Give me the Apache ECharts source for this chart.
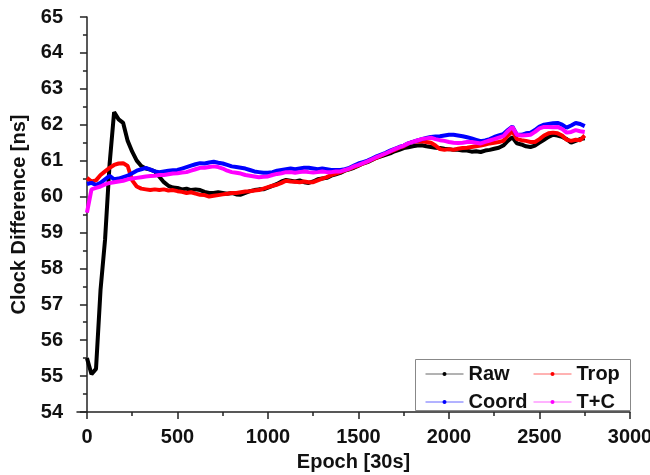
<!DOCTYPE html>
<html>
<head>
<meta charset="utf-8">
<script src="https://cdn.jsdelivr.net/npm/echarts@6/dist/echarts.min.js"></script>
<style>html,body{margin:0;padding:0;background:#fff}#c{width:650px;height:475px}</style>
</head>
<body>
<div id="c"></div>
<script>
const epochs = [0,25,50,75,100,125,150,175,200,225,250,275,300,325,350,375,400,425,450,475,500,525,550,575,600,625,650,675,700,725,750,775,800,825,850,875,900,925,950,975,1000,1025,1050,1075,1100,1125,1150,1175,1200,1225,1250,1275,1300,1325,1350,1375,1400,1425,1450,1475,1500,1525,1550,1575,1600,1625,1650,1675,1700,1725,1750,1775,1800,1825,1850,1875,1900,1925,1950,1975,2000,2025,2050,2075,2100,2125,2150,2175,2200,2225,2250,2275,2300,2325,2350,2375,2400,2425,2450,2475,2500,2525,2550,2575,2600,2625,2650,2675,2700,2725,2750];

const raw = [55.5,55.05,55.2,57.4,58.8,60.9,62.35,62.15,62.05,61.55,61.25,61.0,60.85,60.78,60.75,60.7,60.55,60.4,60.3,60.25,60.24,60.2,60.22,60.18,60.2,60.18,60.13,60.1,60.1,60.12,60.1,60.08,60.1,60.06,60.05,60.1,60.15,60.18,60.2,60.2,60.25,60.3,60.35,60.42,60.46,60.44,60.42,60.45,60.4,60.38,60.42,60.48,60.5,60.52,60.58,60.62,60.66,60.72,60.76,60.8,60.86,60.92,60.96,61.02,61.08,61.12,61.16,61.2,61.26,61.3,61.35,61.37,61.4,61.42,61.43,61.4,61.38,61.36,61.35,61.33,61.32,61.3,61.3,61.28,61.28,61.25,61.26,61.24,61.28,61.3,61.33,61.36,61.42,61.55,61.65,61.48,61.45,61.4,61.38,61.42,61.5,61.58,61.66,61.72,61.7,61.66,61.6,61.5,61.55,61.6,61.62];

const trop = [60.52,60.42,60.45,60.6,60.7,60.8,60.88,60.92,60.93,60.85,60.45,60.28,60.22,60.2,60.18,60.2,60.18,60.2,60.17,60.18,60.15,60.13,60.1,60.12,60.08,60.05,60.04,60.0,60.02,60.04,60.06,60.08,60.1,60.1,60.12,60.14,60.15,60.17,60.18,60.22,60.26,60.3,60.33,60.38,60.44,60.42,60.41,60.4,60.42,60.4,60.4,60.45,60.5,60.54,60.6,60.64,60.68,60.73,60.77,60.82,60.87,60.92,60.97,61.03,61.08,61.14,61.2,61.25,61.3,61.36,61.4,61.47,61.52,61.53,61.54,61.52,61.5,61.42,61.32,61.3,61.32,61.3,61.33,61.35,61.36,61.38,61.4,61.42,61.45,61.48,61.5,61.52,61.55,61.7,61.82,61.6,61.57,61.55,61.52,61.52,61.6,61.7,61.76,61.78,61.76,61.7,61.58,61.55,61.58,61.57,61.7];

const coord = [60.35,60.38,60.32,60.38,60.48,60.58,60.48,60.5,60.54,60.58,60.65,60.72,60.76,60.8,60.75,60.7,60.68,60.7,60.72,60.73,60.74,60.78,60.82,60.86,60.9,60.93,60.92,60.95,60.97,60.94,60.92,60.88,60.84,60.82,60.8,60.78,60.74,60.7,60.68,60.66,60.66,60.68,60.72,60.74,60.76,60.78,60.76,60.78,60.8,60.8,60.78,60.76,60.78,60.76,60.74,60.74,60.74,60.76,60.8,60.86,60.92,60.96,61.0,61.06,61.12,61.17,61.22,61.28,61.33,61.38,61.42,61.48,61.52,61.56,61.6,61.63,61.66,61.67,61.68,61.7,61.72,61.72,61.7,61.68,61.65,61.62,61.58,61.54,61.56,61.6,61.66,61.7,61.74,61.85,61.95,61.72,61.72,61.76,61.78,61.85,61.95,62.0,62.02,62.04,62.05,62.0,61.92,61.98,62.05,62.02,61.96];

const tc = [59.55,60.2,60.24,60.28,60.34,60.38,60.4,60.42,60.44,60.48,60.5,60.52,60.54,60.56,60.57,60.58,60.6,60.6,60.62,60.64,60.65,60.67,60.68,60.72,60.76,60.8,60.8,60.82,60.84,60.82,60.78,60.72,60.68,60.66,60.64,60.6,60.58,60.56,60.54,60.55,60.56,60.6,60.63,60.65,60.68,60.68,60.66,60.68,60.7,60.68,60.67,60.68,60.7,60.68,60.68,60.7,60.7,60.74,60.78,60.84,60.88,60.93,60.98,61.04,61.1,61.15,61.2,61.26,61.32,61.37,61.42,61.48,61.52,61.56,61.6,61.62,61.64,61.6,61.57,61.55,61.52,61.5,61.49,61.5,61.52,61.52,61.5,61.48,61.52,61.56,61.6,61.64,61.68,61.82,61.94,61.72,61.7,61.71,61.72,61.8,61.9,61.94,61.94,61.93,61.94,61.88,61.78,61.8,61.85,61.82,61.8];

const seriesNames = ['Raw','Trop','Coord','T+C'];
const seriesColors = ['#000000','#ff0000','#0000ff','#ff00ff'];
const seriesValues = [raw, trop, coord, tc];
const xMajorTicks = [0,500,1000,1500,2000,2500,3000];
const xMinorTicks = [250,750,1250,1750,2250,2750];

const FONT = 'Liberation Sans, Arial, sans-serif';
const FS = 20;
const chart = echarts.init(document.getElementById('c'), null, {renderer:'canvas'});

const series = seriesNames.map((n,i)=>({
  name: n,
  type: 'line',
  xAxisIndex: 0,
  yAxisIndex: 0,
  data: epochs.map((e,k)=>[e, seriesValues[i][k]]),
  symbol: 'circle',
  symbolSize: 4,
  showSymbol: false,
  smooth: false,
  lineStyle: {color: seriesColors[i], width: 4},
  itemStyle: {color: seriesColors[i]},
  animation: false
}));

const legendCommon = {
  orient: 'vertical',
  itemWidth: 38,
  itemHeight: 5,
  itemGap: 8,
  padding: 0,
  textStyle: {fontFamily: FONT, fontWeight: 'bold', fontSize: FS, color: '#111', padding:[0,0,0,0]},
  lineStyle: {width: 1, opacity: 0.6},
  selectedMode: false
};

const plainNum = v => String(v);

chart.setOption({
  backgroundColor: '#fff',
  animation: false,
  grid: {left: 77, right: 20, top: 17, bottom: 63, containLabel: false, outerBoundsMode: 'none'},
  xAxis: [{
    type: 'value', min: -55, max: 3000,
    name: 'Epoch [30s]', nameLocation: 'middle', nameGap: 40,
    nameTextStyle: {fontFamily: FONT, fontWeight: 'bold', fontSize: FS, color: '#111'},
    axisLine: {show: true, onZero: false, lineStyle: {color: '#222', width: 1.5}},
    axisTick: {show: true, customValues: xMajorTicks, length: 7, lineStyle: {color:'#222', width: 1.5}},
    axisLabel: {customValues: xMajorTicks, formatter: plainNum, fontFamily: FONT, fontWeight: 'bold', fontSize: FS, color: '#111', margin: 15},
    splitLine: {show: false}
  },{
    type: 'value', min: -55, max: 3000, position: 'bottom',
    axisLine: {show: false},
    axisTick: {show: true, customValues: xMinorTicks, length: 4, lineStyle: {color:'#222', width: 1.5}},
    axisLabel: {show: false},
    splitLine: {show: false}
  }],
  yAxis: {
    type: 'value', min: 54, max: 65, interval: 1,
    name: 'Clock Difference [ns]', nameLocation: 'middle', nameGap: 42, nameRotate: 90,
    nameTextStyle: {fontFamily: FONT, fontWeight: 'bold', fontSize: FS, color: '#111'},
    axisLine: {show: true, lineStyle: {color: '#222', width: 1.5}},
    axisTick: {show: true, length: 7, lineStyle: {color:'#222', width: 1.5}},
    minorTick: {show: true, splitNumber: 2, length: 4, lineStyle: {color:'#222', width: 1.5}},
    axisLabel: {fontFamily: FONT, fontWeight: 'bold', fontSize: FS, color: '#111', margin: 14},
    splitLine: {show: false}
  },
  legend: [
    Object.assign({}, legendCommon, {data: ['Raw','Coord'], left: 425, top: 364}),
    Object.assign({}, legendCommon, {data: ['Trop','T+C'], left: 533, top: 364})
  ],
  graphic: [{
    type: 'rect', left: 413, top: 357, z: 100, silent: true,
    shape: {width: 215, height: 51},
    style: {fill: 'none', stroke: '#888', lineWidth: 1}
  }],
  series: series
});
</script>
</body>
</html>
